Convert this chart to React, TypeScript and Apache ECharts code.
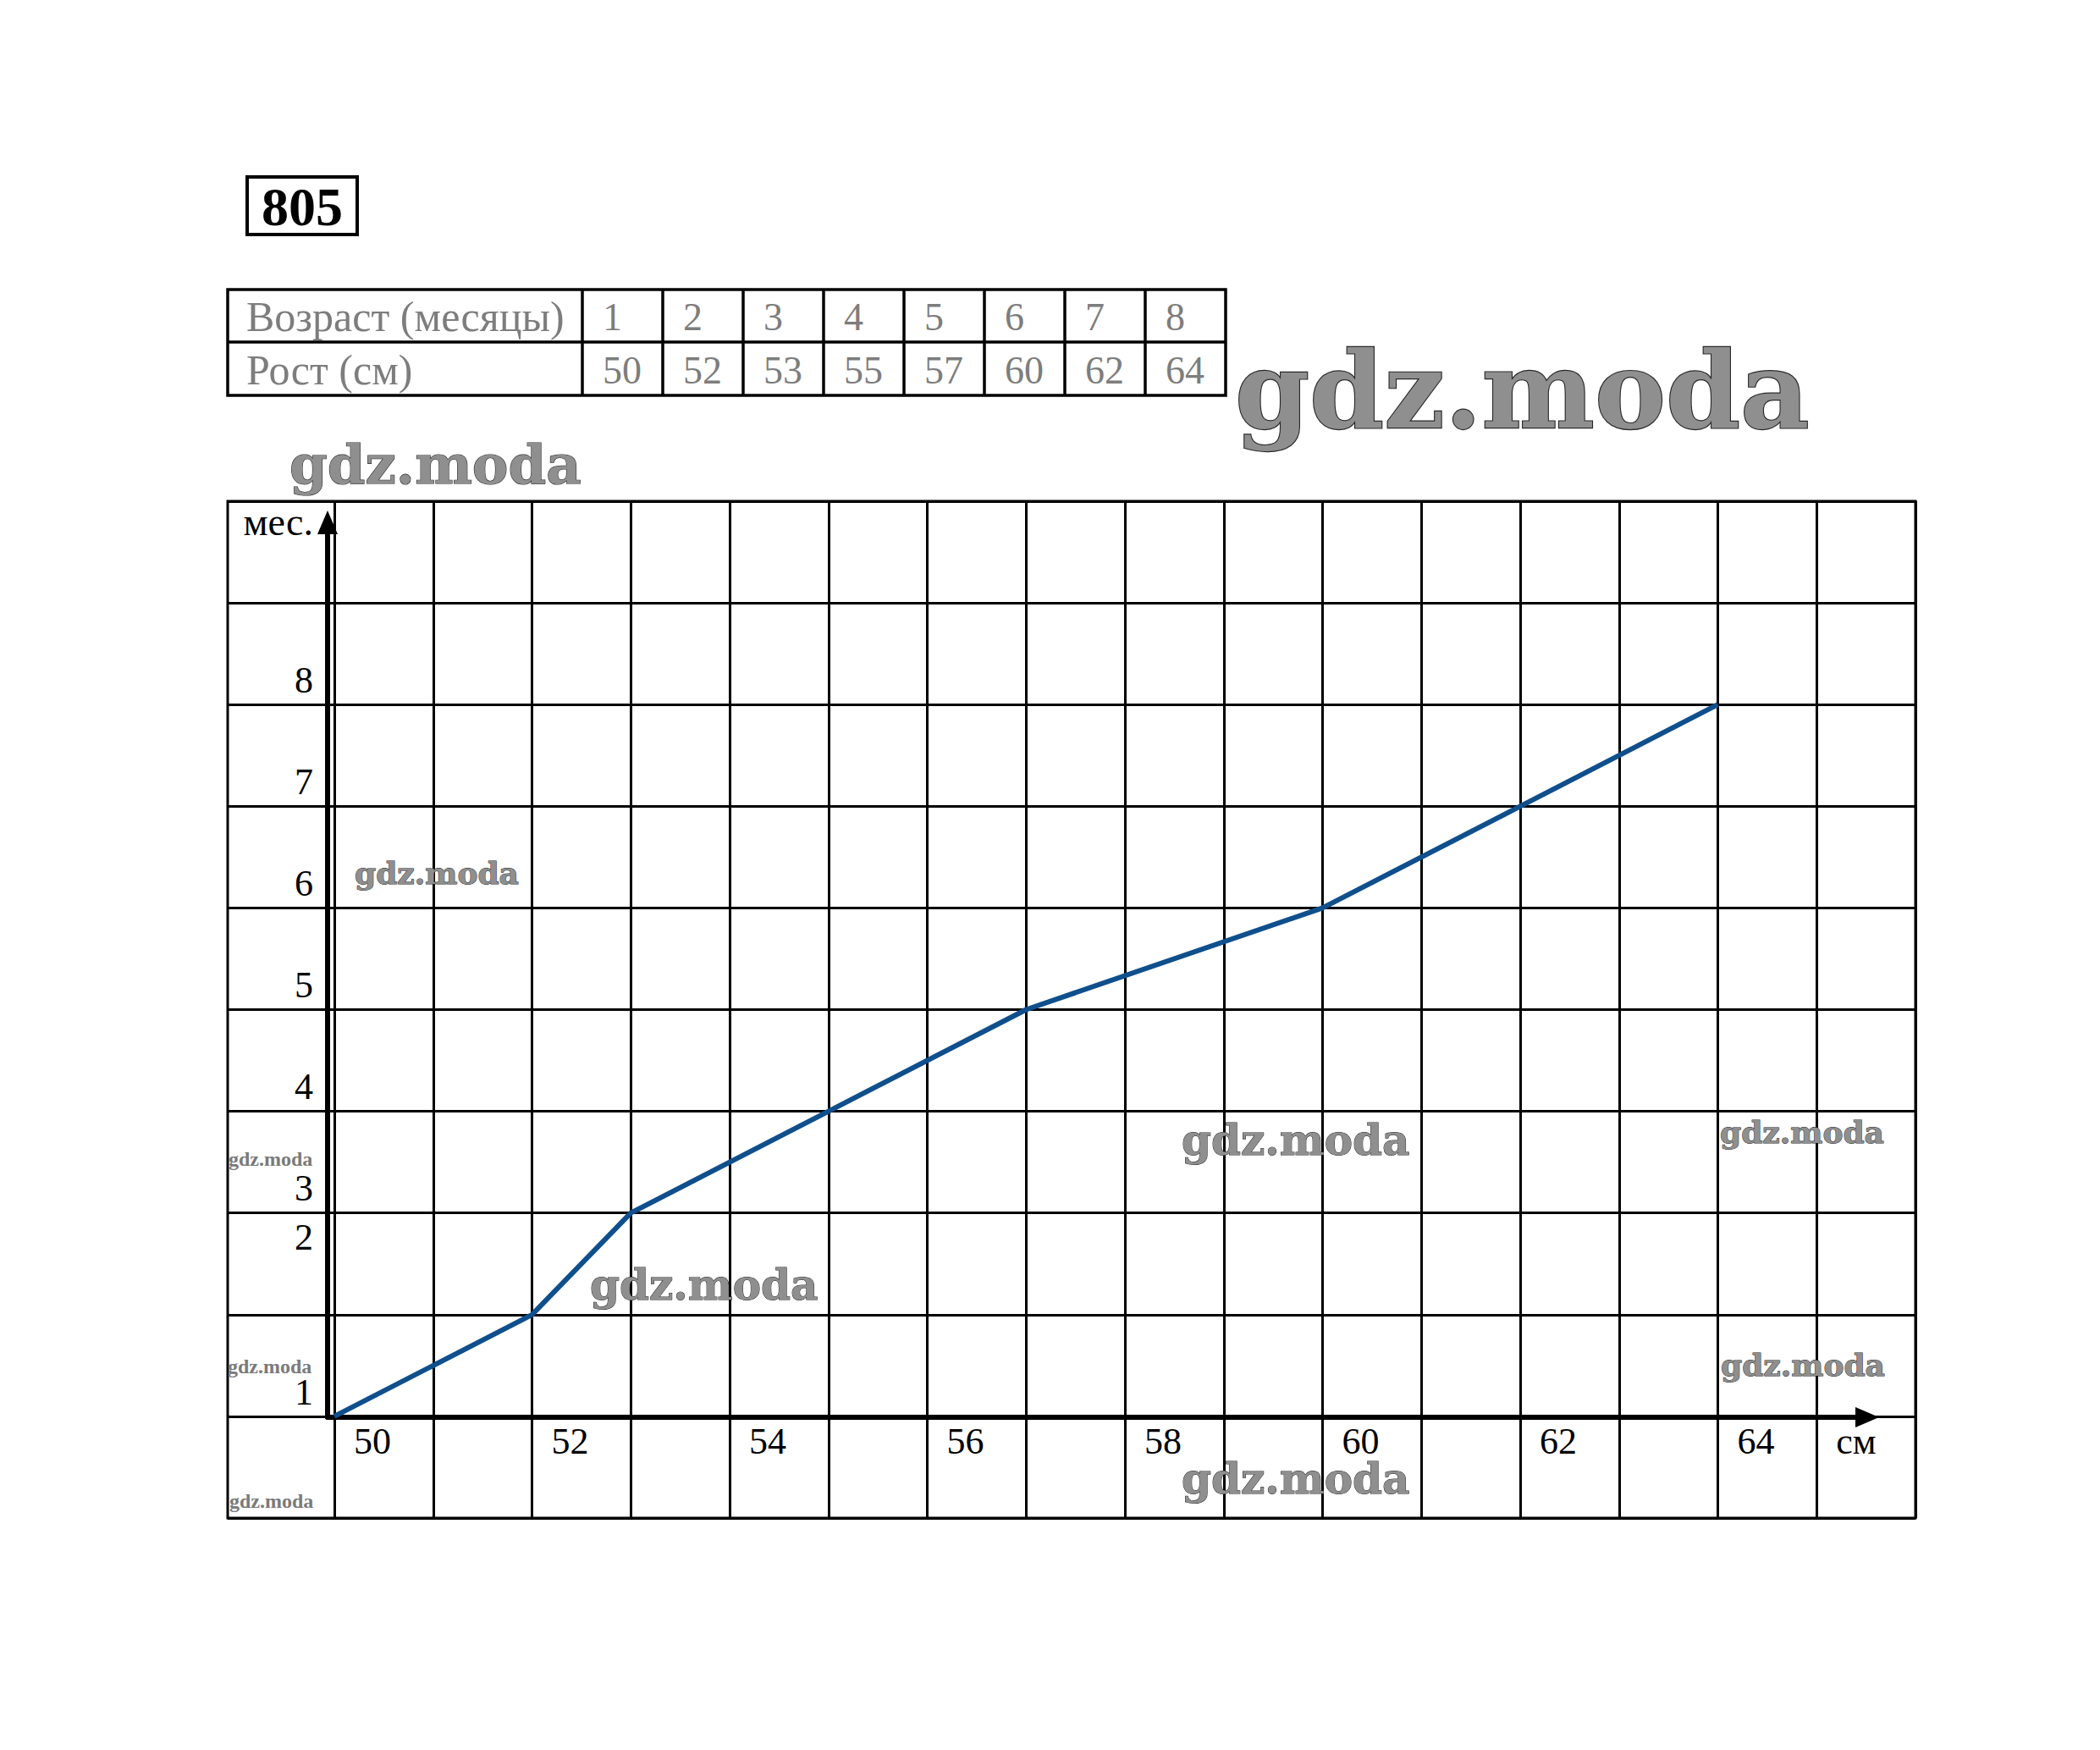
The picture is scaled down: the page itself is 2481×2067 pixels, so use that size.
import React, { useEffect, useRef } from 'react';
import * as echarts from 'echarts';

// ---- data ----
const months = [1, 2, 3, 4, 5, 6, 7, 8];
const heights = [50, 52, 53, 55, 57, 60, 62, 64];
const xTickLabels = ['50', '52', '54', '56', '58', '60', '62', '64'];
const yTickLabels = ['1', '2', '3', '4', '5', '6', '7', '8'];
const xUnit = 'см';
const yUnit = 'мес.';
const tableRowLabels = ['Возраст (месяцы)', 'Рост (см)'];
const taskNumber = '805';
const watermarkText = 'gdz.moda';

const SERIF = '"Liberation Serif", "Times New Roman", serif';
const WM_FONT = '"DejaVu Serif", serif';

// watermark placements (layout only)
const watermarks = [
  { x: 1459, y: 461, size: 126, big: true },
  { x: 342, y: 548, size: 64, big: true },
  { x: 419, y: 1031, size: 36, big: true },
  { x: 697, y: 1517, size: 50, big: true },
  { x: 1396, y: 1346, size: 50, big: true },
  { x: 2032, y: 1337, size: 36, big: true },
  { x: 2033, y: 1612, size: 36, big: true },
  { x: 1396, y: 1746, size: 50, big: true },
  { x: 270, y: 1369, size: 24, big: false },
  { x: 269, y: 1614, size: 24, big: false },
  { x: 271, y: 1773, size: 24, big: false },
];

function buildGraphics() {
  const els: any[] = [];
  // task number box
  els.push({ type: 'rect', shape: { x: 292, y: 209, width: 130, height: 68 }, style: { fill: '#fff', stroke: '#000', lineWidth: 4 } });
  els.push({ type: 'text', x: 357, y: 244, style: { text: taskNumber, fontSize: 64, fontWeight: 'bold', fontFamily: SERIF, fill: '#000', align: 'center', verticalAlign: 'middle' } });

  // table
  const tL = 269, tR = 1448, tT = 342, tM = 404, tB = 467, c0 = 688, cw = 95;
  els.push({ type: 'rect', shape: { x: tL, y: tT, width: tR - tL, height: tB - tT }, style: { fill: 'none', stroke: '#000', lineWidth: 3.5 } });
  els.push({ type: 'line', shape: { x1: tL, y1: tM, x2: tR, y2: tM }, style: { stroke: '#000', lineWidth: 3.5 } });
  for (let i = 0; i < months.length; i++) {
    const cx = c0 + i * cw;
    els.push({ type: 'line', shape: { x1: cx, y1: tT, x2: cx, y2: tB }, style: { stroke: '#000', lineWidth: 3.5 } });
    els.push({ type: 'text', x: cx + 24, y: 374, style: { text: String(months[i]), fontSize: 46, fontFamily: SERIF, fill: '#7d7d7d', align: 'left', verticalAlign: 'middle' } });
    els.push({ type: 'text', x: cx + 24, y: 437, style: { text: String(heights[i]), fontSize: 46, fontFamily: SERIF, fill: '#7d7d7d', align: 'left', verticalAlign: 'middle' } });
  }
  els.push({ type: 'text', x: 291, y: 374, style: { text: tableRowLabels[0], fontSize: 50, fontFamily: SERIF, fill: '#7d7d7d', align: 'left', verticalAlign: 'middle' } });
  els.push({ type: 'text', x: 291, y: 437, style: { text: tableRowLabels[1], fontSize: 50, fontFamily: SERIF, fill: '#7d7d7d', align: 'left', verticalAlign: 'middle' } });

  // chart frame
  els.push({ type: 'rect', z: 5, shape: { x: 269, y: 592, width: 2263 - 269, height: 1793 - 592 }, style: { fill: 'none', stroke: '#000', lineWidth: 3 } });

  // watermarks
  watermarks.forEach((w) => {
    els.push({
      type: 'text', z: 100, x: w.x, y: w.y,
      style: w.big
        ? { text: watermarkText, fontSize: w.size, fontWeight: 'bold', fontFamily: WM_FONT, fill: '#8f8f8f', stroke: '#2a2a2a', lineWidth: Math.max(1, w.size / 55), align: 'left', verticalAlign: 'middle' }
        : { text: watermarkText, fontSize: w.size, fontWeight: 'bold', fontFamily: SERIF, fill: '#7a7a7a', align: 'left', verticalAlign: 'middle' },
    });
  });
  return els;
}

export default function App() {
  const ref = useRef<HTMLDivElement>(null);
  useEffect(() => {
    if (!ref.current) return;
    const chart = echarts.init(ref.current, undefined, { renderer: 'svg' });
    const lastX = Number(xTickLabels[xTickLabels.length - 1]);
    const option: any = {
      animation: false,
      backgroundColor: '#fff',
      grid: [
        { left: 278.25, right: 218, top: 592, bottom: 274 },
        { left: 387, right: 275, top: 617, bottom: 393 },
        { left: 269, right: 218, top: 592, bottom: 274 },
      ],
      xAxis: [
        {
          gridIndex: 0, type: 'value', min: 49, max: 66, interval: 1,
          axisLine: { show: false }, axisTick: { show: false }, axisLabel: { show: false },
          splitLine: { show: true, showMinLine: false, lineStyle: { color: '#000', width: 3 } },
        },
        {
          gridIndex: 1, type: 'value', min: 50, max: 50 + 1819 / 116.75, interval: 1,
          axisLine: { show: true, symbol: ['none', 'triangle'], symbolSize: [24, 28], lineStyle: { color: '#000', width: 6 } },
          axisTick: { show: false }, splitLine: { show: false },
          axisLabel: {
            show: true, margin: 6, align: 'left', padding: [0, 0, 0, 31],
            fontSize: 44, fontFamily: SERIF, color: '#000',
            showMinLabel: true, showMaxLabel: false,
            formatter: (v: number) => {
              const r = Math.round(v);
              if (xTickLabels.includes(String(r))) return String(r);
              if (r === lastX + 1) return xUnit;
              return '';
            },
          },
        },
        {
          gridIndex: 2, type: 'value', min: 0, max: 1, show: false,
        },
      ],
      yAxis: [
        {
          gridIndex: 0, type: 'value', min: 0, max: 10, interval: 1,
          axisLine: { show: false }, axisTick: { show: false }, axisLabel: { show: false },
          splitLine: { show: false },
        },
        {
          gridIndex: 1, type: 'value', min: 1, max: 1 + 1057 / 120.1, interval: 1,
          axisLine: { show: true, symbol: ['none', 'triangle'], symbolSize: [24, 28], lineStyle: { color: '#000', width: 6 } },
          axisTick: { show: false }, splitLine: { show: false },
          name: yUnit, nameLocation: 'end', nameGap: 1,
          nameTextStyle: { fontSize: 46, fontFamily: SERIF, color: '#000', align: 'right', verticalAlign: 'middle', padding: [0, 17, 0, 0] },
          axisLabel: {
            show: true, margin: 17, showMaxLabel: false,
            formatter: (v: number) => {
              const s = String(Math.round(v));
              if (!yTickLabels.includes(s)) return '';
              return s === '2' ? `{u|${s}}` : `{n|${s}}`;
            },
            rich: {
              n: { fontSize: 44, fontFamily: SERIF, color: '#000', padding: [0, 0, 60, 0] },
              u: { fontSize: 44, fontFamily: SERIF, color: '#000', padding: [0, 0, 184, 0] },
            },
          },
        },
        {
          gridIndex: 2, type: 'value', min: 0, max: 10, interval: 1,
          axisLine: { show: false }, axisTick: { show: false }, axisLabel: { show: false },
          splitLine: { show: true, lineStyle: { color: '#000', width: 3 } },
        },
      ],
      series: [
        {
          type: 'line', xAxisIndex: 0, yAxisIndex: 0, z: 3,
          data: heights.map((h, i) => [h, months[i]]),
          symbol: 'none',
          lineStyle: { color: '#0f4f8c', width: 6 },
        },
      ],
      graphic: { elements: buildGraphics() },
    };
    chart.setOption(option);
    return () => chart.dispose();
  }, []);
  return <div ref={ref} style={{ position: 'absolute', left: 0, top: 0, width: 2481, height: 2067 }} />;
}
